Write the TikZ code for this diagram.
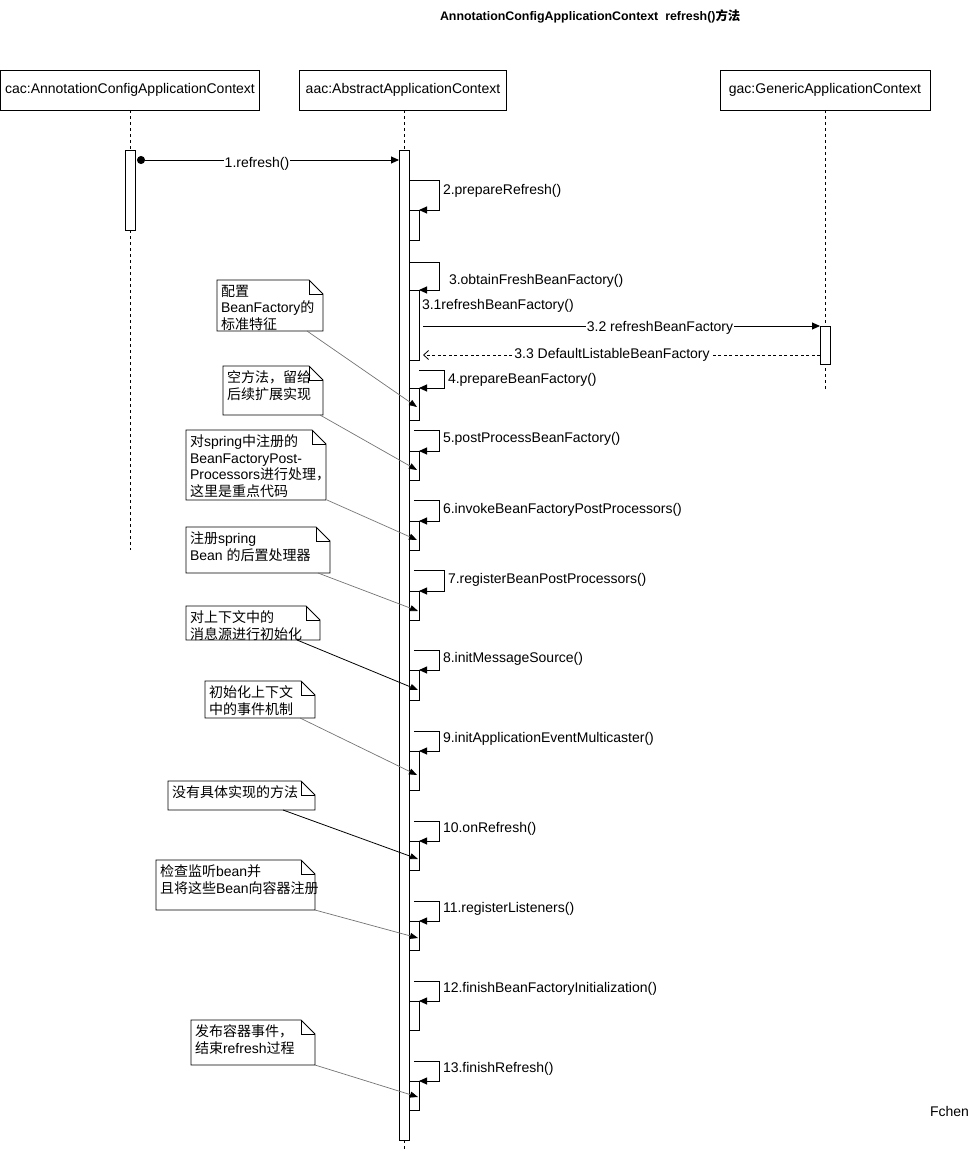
\documentclass[tikz,border=0pt]{standalone}
\usepackage{fontspec}
\setmainfont{Liberation Sans}
\newfontfamily\cjk{Noto Sans CJK SC}
\usetikzlibrary{arrows.meta}
\newcommand\selfcall[8]{%
  \draw[act] (409,#4) rectangle (419,#5);
  \draw[msg] (#1,#2) -- (#3,#2) -- (#3,#4) -- (419,#4);
  \node[lbl] (#8) at (#6,#7) {\csname lbltext#8\endcsname};
}
\newcommand\notebox[6]{%
  \draw[notebox] (#2,#3) -- ({#4-14},#3) -- (#4,{#3+14}) -- (#4,#5) -- (#2,#5) -- cycle;
  \draw[notebox, fill=none] ({#4-14},#3) -- ({#4-14},{#3+14}) -- (#4,{#3+14});
  \node[notetext] (#1) at ({#2+4},{#3+5}) {#6};
}
\begin{document}
\begin{tikzpicture}[x=1pt,y=-1pt,
  every node/.style={font=\fontsize{14}{16.5}\selectfont, inner sep=0pt, outer sep=0pt},
  head/.style={draw, line width=0.9pt, minimum height=40pt, anchor=north west, fill=white},
  lifeline/.style={line width=0.8pt, dash pattern=on 3pt off 3pt},
  act/.style={draw, fill=white, line width=0.9pt},
  msg/.style={line width=0.9pt, -{Triangle[length=8pt,width=7pt]}},
  ret/.style={line width=0.8pt, dash pattern=on 3pt off 2.5pt, -{Straight Barb[length=5pt,width=9pt]}},
  lbl/.style={anchor=west},
  mlbl/.style={fill=white, inner sep=1pt},
  notebox/.style={draw, fill=white, line width=0.9pt},
  notetext/.style={anchor=north west, align=left},
  noteconn/.style={line width=0.7pt, draw=black!55, -{Triangle[length=8pt,width=6pt,color=black]}},
  noteconnd/.style={line width=0.8pt, draw=black, -{Triangle[length=8pt,width=6pt]}}
]
\useasboundingbox (0,0) rectangle (971,1151);

% title
\node[anchor=west, font=\fontsize{12.4}{14}\selectfont\bfseries] (title) at (440,16)
  {AnnotationConfigApplicationContext\ \ refresh(){\cjk 方法}};
\node[anchor=east] (author) at (969,1111) {Fchen};

% heads
\node[head, minimum width=259pt] (cac) at (0.5,70) {cac:AnnotationConfigApplicationContext};
\node[head, minimum width=207pt] (aac) at (299.5,70) {aac:AbstractApplicationContext};
\node[head, minimum width=210pt] (gac) at (720,70) {gac:GenericApplicationContext};

% lifelines
\draw[lifeline] (130,110) -- (130,550);
\draw[lifeline] (404,110) -- (404,150);
\draw[lifeline] (404,1140) -- (404,1151);
\draw[lifeline] (825,110) -- (825,390);

% activations
\draw[act] (125,150) rectangle (135,230);
\draw[act] (399,150) rectangle (409,1140);
\draw[act] (820,326) rectangle (830,364);

% 1.refresh()
\coordinate (m1s) at (137,160);
\coordinate (m1e) at (399,160);
\draw[msg, {Circle[length=8pt]}-{Triangle[length=8pt,width=7pt]}] (m1s) -- (m1e);
\node[mlbl] (l1) at (257,164) {1.refresh()};

% self calls
\expandafter\def\csname lbltextc2\endcsname{2.prepareRefresh()}
\expandafter\def\csname lbltextc3\endcsname{3.obtainFreshBeanFactory()}
\expandafter\def\csname lbltextc4\endcsname{4.prepareBeanFactory()}
\expandafter\def\csname lbltextc5\endcsname{5.postProcessBeanFactory()}
\expandafter\def\csname lbltextc6\endcsname{6.invokeBeanFactoryPostProcessors()}
\expandafter\def\csname lbltextc7\endcsname{7.registerBeanPostProcessors()}
\expandafter\def\csname lbltextc8\endcsname{8.initMessageSource()}
\expandafter\def\csname lbltextc9\endcsname{9.initApplicationEventMulticaster()}
\expandafter\def\csname lbltextc10\endcsname{10.onRefresh()}
\expandafter\def\csname lbltextc11\endcsname{11.registerListeners()}
\expandafter\def\csname lbltextc12\endcsname{12.finishBeanFactoryInitialization()}
\expandafter\def\csname lbltextc13\endcsname{13.finishRefresh()}

\selfcall{409}{180}{439}{210}{240}{443}{191}{c2}
\selfcall{409}{262}{439}{290}{360}{449}{281}{c3}
\node[lbl] (c31) at (422,306) {3.1refreshBeanFactory()};
\selfcall{419}{370}{444}{388}{420}{448}{380}{c4}
\selfcall{414}{430}{439}{451}{480}{443}{439}{c5}
\selfcall{414}{500}{439}{521}{550}{443}{510}{c6}
\selfcall{414}{570}{444}{591}{620}{448}{580}{c7}
\selfcall{414}{650}{439}{670}{700}{443}{659}{c8}
\selfcall{414}{731}{439}{751}{790}{443}{739}{c9}
\selfcall{414}{821}{439}{841}{870}{443}{829}{c10}
\selfcall{414}{901}{439}{921}{950}{443}{909}{c11}
\selfcall{414}{981}{439}{1001}{1030}{443}{989}{c12}
\selfcall{414}{1061}{439}{1081}{1110}{443}{1069}{c13}

% 3.2 / 3.3
\coordinate (m32s) at (423,326);
\coordinate (m32e) at (820,326);
\draw[msg] (m32s) -- (m32e);
\node[mlbl] (l32) at (660,328) {3.2 refreshBeanFactory};
\coordinate (m33s) at (820,355);
\coordinate (m33e) at (423,355);
\draw[ret] (m33s) -- (m33e);
\node[mlbl] (l33) at (612,355) {3.3 DefaultListableBeanFactory};

% notes
\notebox{n1}{217}{280}{323}{331}{{\cjk 配置}\\BeanFactory{\cjk 的}\\{\cjk 标准特征}}
\notebox{n2}{223}{366}{323}{415}{{\cjk 空方法，留给}\\{\cjk 后续扩展实现}}
\notebox{n3}{186}{430}{326}{500}{{\cjk 对}spring{\cjk 中注册的}\\BeanFactoryPost-\\Processors{\cjk 进行处理，}\\{\cjk 这里是重点代码}}
\notebox{n4}{186}{527}{330}{573}{{\cjk 注册}spring\\Bean {\cjk 的后置处理器}}
\notebox{n5}{186}{606}{320}{640}{{\cjk 对上下文中的}\\{\cjk 消息源进行初始化}}
\notebox{n6}{205}{681}{315}{718}{{\cjk 初始化上下文}\\{\cjk 中的事件机制}}
\notebox{n7}{168}{781}{315}{810}{{\cjk 没有具体实现的方法}}
\notebox{n8}{156}{860}{315}{910}{{\cjk 检查监听}bean{\cjk 并}\\{\cjk 且将这些}Bean{\cjk 向容器注册}}
\notebox{n9}{191}{1020}{315}{1065}{{\cjk 发布容器事件，}\\{\cjk 结束}refresh{\cjk 过程}}

\coordinate (n1s) at (307,331);  \coordinate (t1) at (417,407);
\coordinate (n2s) at (320,415);  \coordinate (t2) at (417,470);
\coordinate (n3s) at (327,500);  \coordinate (t3) at (417,540);
\coordinate (n4s) at (318,573);  \coordinate (t4) at (418,611);
\coordinate (n5s) at (297,640);  \coordinate (t5) at (418,690);
\coordinate (n6s) at (300,718);  \coordinate (t6) at (417,775);
\coordinate (n7s) at (283,810);  \coordinate (t7) at (418,859);
\coordinate (n8s) at (315,910);  \coordinate (t8) at (418,938);
\coordinate (n9s) at (315,1065); \coordinate (t9) at (418,1097);
\draw[noteconn] (n1s) -- (t1);
\draw[noteconn] (n2s) -- (t2);
\draw[noteconn] (n3s) -- (t3);
\draw[noteconn] (n4s) -- (t4);
\draw[noteconnd] (n5s) -- (t5);
\draw[noteconn] (n6s) -- (t6);
\draw[noteconnd] (n7s) -- (t7);
\draw[noteconn] (n8s) -- (t8);
\draw[noteconn] (n9s) -- (t9);
\end{tikzpicture}
\end{document}
